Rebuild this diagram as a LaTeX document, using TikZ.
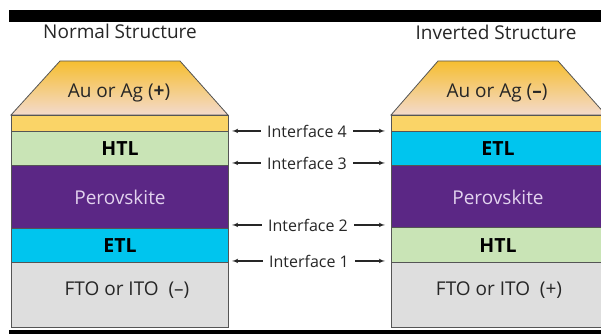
\documentclass[tikz,border=0pt]{standalone}
\usepackage{fontspec}
\setmainfont{Open Sans}
\usetikzlibrary{arrows}
\definecolor{gold}{HTML}{F6BE30}
\definecolor{peach}{HTML}{F3DACD}
\definecolor{goldlayer}{HTML}{FAD467}
\definecolor{htlgreen}{HTML}{C9E4B6}
\definecolor{perov}{HTML}{5B2785}
\definecolor{perovtext}{HTML}{E2D2EE}
\definecolor{etlblue}{HTML}{00C5EE}
\definecolor{fto}{HTML}{DEDEDE}
\definecolor{edgegray}{HTML}{555555}
\definecolor{textgray}{HTML}{262626}

\begin{document}
\begin{tikzpicture}[x=1pt,y=-1pt]
    \tikzset{layer/.style = {draw=edgegray, line width=0.8pt, inner sep=0pt, anchor=north west, minimum width=217pt}}
    \tikzset{lbl/.style = {anchor=base, text=textgray, font=\fontsize{19}{19}\selectfont}}
    \tikzset{bold/.style = {anchor=base, text=black, font=\fontsize{19.5}{19.5}\selectfont\bfseries}}
    \tikzset{iface/.style = {anchor=base, inner xsep=6pt, text=textgray, font=\fontsize{16}{16}\selectfont}}
    \tikzset{edge/.style = {->, > = latex', line width=1.1pt, draw=textgray}}
    \useasboundingbox (0,0) rectangle (601,334);
    % black bars
    \fill[black] (9,10) rectangle (601,22);
    \fill[black] (9,330) rectangle (601,334);
    % titles
    \node[lbl] (normal) at (120,39) {Normal Structure};
    \node[lbl] (inverted) at (496,40) {Inverted Structure};
    % electrodes
    \draw[edgegray, line width=0.8pt, top color=gold, bottom color=peach] (11,115) -- (60,61) -- (180,61) -- (228,115) -- cycle;
    \draw[edgegray, line width=0.8pt, top color=gold, bottom color=peach] (391,115) -- (438,61) -- (558,61) -- (606,115) -- cycle;
    \node[lbl] (auL) at (119,97) {Au or Ag (\textbf{+})};
    \node[lbl] (auR) at (497,97) {Au or Ag (\textbf{–})};
    % normal layers
    \node[layer, fill=goldlayer, minimum height=16pt] (goldL) at (11,115) {};
    \node[layer, fill=htlgreen, minimum height=34pt] (htlL) at (11,131) {};
    \node[layer, fill=perov, minimum height=63pt] (perL) at (11,165) {};
    \node[layer, fill=etlblue, minimum height=34pt] (etlL) at (11,228) {};
    \node[layer, fill=fto, minimum height=65pt] (ftoL) at (11,262) {};
    % inverted layers
    \node[layer, fill=goldlayer, minimum height=16pt] (goldR) at (391,115) {};
    \node[layer, fill=etlblue, minimum height=34pt] (etlR) at (391,131) {};
    \node[layer, fill=perov, minimum height=62pt] (perR) at (391,165) {};
    \node[layer, fill=htlgreen, minimum height=35pt] (htlR) at (391,227) {};
    \node[layer, fill=fto, minimum height=65pt] (ftoR) at (391,262) {};
    % layer texts
    \node[bold] (htlLt) at (120,155) {HTL};
    \node[lbl, text=perovtext] (perLt) at (120,204) {Perovskite};
    \node[bold] (etlLt) at (120,252) {ETL};
    \node[lbl] (ftoLt) at (127,295) {FTO or ITO\ \ (–)};
    \node[bold] (etlRt) at (498,155) {ETL};
    \node[lbl, text=perovtext] (perRt) at (498,204) {Perovskite};
    \node[bold] (htlRt) at (498,252) {HTL};
    \node[lbl] (ftoRt) at (499,295) {FTO or ITO\ \ (+)};
    % interfaces
    \coordinate (tipL) at (232,0);
    \coordinate (tipR) at (385,0);
    \node[iface] (if4) at (307,137) {Interface 4};
    \node[iface] (if3) at (307,169) {Interface 3};
    \node[iface] (if2) at (308,231) {Interface 2};
    \node[iface] (if1) at (309,267) {Interface 1};
    \draw[edge] (if4.west) -- (if4.west -| tipL);
    \draw[edge] (if4.east) -- (if4.east -| tipR);
    \draw[edge] (if3.west) -- (if3.west -| tipL);
    \draw[edge] (if3.east) -- (if3.east -| tipR);
    \draw[edge] (if2.west) -- (if2.west -| tipL);
    \draw[edge] (if2.east) -- (if2.east -| tipR);
    \draw[edge] (if1.west) -- (if1.west -| tipL);
    \draw[edge] (if1.east) -- (if1.east -| tipR);
\end{tikzpicture}
\end{document}
